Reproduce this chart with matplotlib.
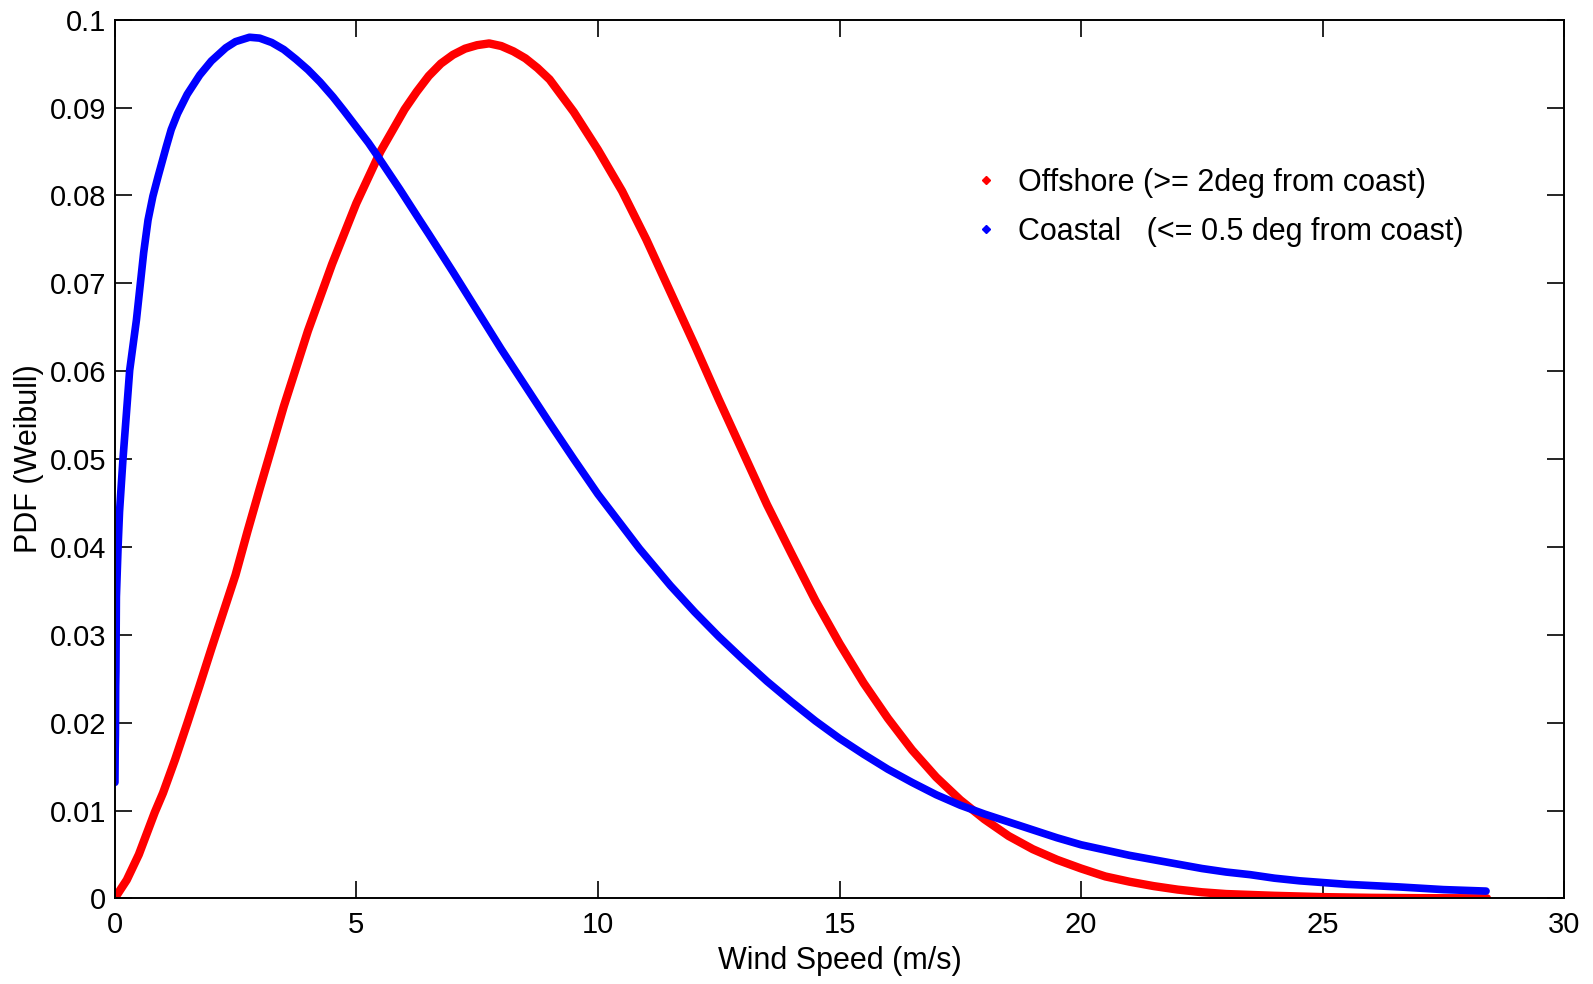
import matplotlib
matplotlib.use("Agg")
import matplotlib.pyplot as plt
from matplotlib.lines import Line2D

# Offshore (>= 2deg from coast)
offshore_speed = [0.0, 0.25, 0.5, 0.83, 1.0, 1.25, 1.5, 1.75, 2.0, 2.25, 2.5,
                  2.75, 3.0, 3.5, 4.0, 4.5, 5.0, 5.5, 6.0, 6.25, 6.5, 6.75, 7.0,
                  7.25, 7.5, 7.75, 8.0, 8.25, 8.5, 8.75, 9.0, 9.5, 10.0, 10.5,
                  11.0, 11.5, 12.0, 12.5, 13.0, 13.5, 14.0, 14.5, 15.0, 15.5,
                  16.0, 16.5, 17.0, 17.5, 18.0, 18.5, 19.0, 19.5, 20.0, 20.5,
                  21.0, 21.5, 22.0, 22.5, 23.0, 24.0, 25.0, 26.0, 27.0, 28.4]
offshore_pdf = [0.0, 0.0021, 0.0050, 0.0098, 0.0120, 0.0158, 0.0199, 0.0241,
                0.0284, 0.0326, 0.0368, 0.0418, 0.0466, 0.0560, 0.0646, 0.0722,
                0.0791, 0.0850, 0.0898, 0.0918, 0.0936, 0.0950, 0.0960, 0.0967,
                0.0971, 0.0973, 0.0970, 0.0964, 0.0956, 0.0945, 0.0932, 0.0895,
                0.0852, 0.0805, 0.0750, 0.0690, 0.0630, 0.0568, 0.0508, 0.0448,
                0.0393, 0.0339, 0.0290, 0.0245, 0.0205, 0.0169, 0.0138, 0.0112,
                0.0090, 0.0071, 0.0056, 0.0044, 0.0034, 0.0025, 0.0019, 0.0014,
                0.0010, 0.0007, 0.0005, 0.0003, 0.00015, 0.00007, 0.00003, 0.00001]

# Coastal (<= 0.5 deg from coast)
coastal_speed = [0.005, 0.01, 0.015, 0.02, 0.025, 0.035, 0.07, 0.1, 0.17, 0.24,
                 0.31, 0.449, 0.6, 0.69, 0.79, 0.9, 1.07, 1.17, 1.3, 1.5, 1.76,
                 2.0, 2.3, 2.5, 2.79, 3.0, 3.25, 3.5, 3.75, 4.0, 4.25, 4.52,
                 4.75, 5.0, 5.25, 5.45, 5.9, 6.31, 6.5, 7.0, 7.5, 8.0, 8.5, 9.0,
                 9.5, 10.0, 10.5, 10.86, 11.5, 12.0, 12.5, 13.0, 13.5, 14.0,
                 14.5, 15.0, 15.5, 16.0, 16.5, 17.0, 17.5, 18.0, 18.5, 19.0,
                 19.5, 20.0, 20.5, 21.0, 21.5, 22.0, 22.5, 23.0, 23.5, 24.0,
                 24.52, 25.5, 26.59, 27.5, 28.38]
coastal_pdf = [0.0132, 0.0169, 0.0186, 0.0241, 0.0258, 0.0343, 0.0400, 0.0440,
               0.0499, 0.0550, 0.0601, 0.0658, 0.0735, 0.0772, 0.0799, 0.0822,
               0.0856, 0.0875, 0.0893, 0.0915, 0.0937, 0.0953, 0.0968, 0.0975,
               0.0980, 0.0979, 0.0974, 0.0966, 0.0955, 0.0943, 0.0929, 0.0912,
               0.0896, 0.0878, 0.0860, 0.0844, 0.0807, 0.0772, 0.0756, 0.0713,
               0.0669, 0.0625, 0.0583, 0.0541, 0.0500, 0.0460, 0.0424, 0.0398,
               0.0356, 0.0326, 0.0298, 0.0272, 0.0247, 0.0224, 0.0202, 0.0182,
               0.0164, 0.0147, 0.0132, 0.0118, 0.0106, 0.0096, 0.0087, 0.0078,
               0.0069, 0.0061, 0.0055, 0.0049, 0.0044, 0.0039, 0.0034, 0.0030,
               0.0027, 0.0023, 0.0020, 0.0016, 0.0013, 0.0010, 0.00083]

x_ticks = [0, 5, 10, 15, 20, 25, 30]
y_ticks = [0, 0.01, 0.02, 0.03, 0.04, 0.05, 0.06, 0.07, 0.08, 0.09, 0.1]
y_tick_labels = ["0", "0.01", "0.02", "0.03", "0.04", "0.05", "0.06", "0.07",
                 "0.08", "0.09", "0.1"]
legend_labels = ["Offshore (>= 2deg from coast)", "Coastal   (<= 0.5 deg from coast)"]

plt.rcParams["font.family"] = ["Liberation Sans", "DejaVu Sans"]
fs_tick, fs_lab = 21, 22

fig = plt.figure(figsize=(15.93, 9.84), dpi=100)
ax = fig.add_axes([0.072, 0.087, 0.910, 0.893])

ax.plot(offshore_speed, offshore_pdf, color="#ff0000", lw=6,
        solid_capstyle="round", solid_joinstyle="round")
ax.plot(coastal_speed, coastal_pdf, color="#0000ff", lw=5.5,
        solid_capstyle="round", solid_joinstyle="round")

ax.set_xlim(0, 30)
ax.set_ylim(0, 0.1)
ax.set_xticks(x_ticks)
ax.set_xticklabels([str(t) for t in x_ticks])
ax.set_yticks(y_ticks)
ax.set_yticklabels(y_tick_labels)
ax.tick_params(direction="in", length=12, width=1.2, top=True, right=True,
               labelsize=fs_tick)
ax.tick_params(axis="x", pad=9)
ax.tick_params(axis="y", pad=6)
for s in ax.spines.values():
    s.set_linewidth(1.4)
    s.set_color("black")

ax.set_xlabel("Wind Speed (m/s)", fontsize=fs_lab, labelpad=5)
ax.set_ylabel("PDF (Weibull)", fontsize=fs_lab, labelpad=4)

handles = [Line2D([], [], ls="none", marker="D", ms=4, color="#ff0000"),
           Line2D([], [], ls="none", marker="D", ms=4, color="#0000ff")]
ax.legend(handles, legend_labels, loc="upper left", bbox_to_anchor=(0.582, 0.845),
          frameon=False, fontsize=fs_lab, handlelength=1.0, handletextpad=0.55,
          labelspacing=0.62, borderaxespad=0)

fig.savefig("out.png", dpi=100, facecolor="white")
